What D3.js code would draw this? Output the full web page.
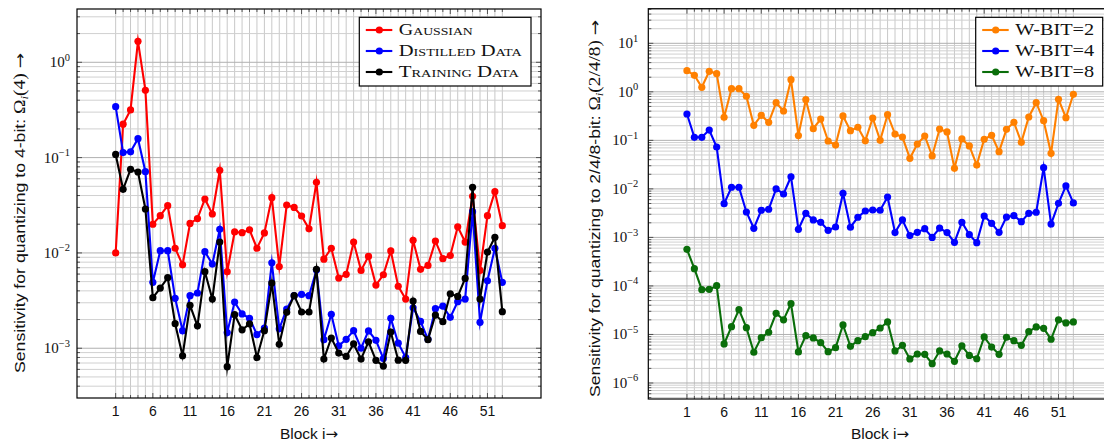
<!DOCTYPE html>
<html>
<head>
<meta charset="utf-8">
<script src="https://cdn.jsdelivr.net/npm/d3@7"></script>
<style>
  body { margin: 0; background: #fff; }
  svg { display: block; }
  .sans { font-family: "Liberation Sans", Arial, sans-serif; }
  .serif { font-family: "Liberation Serif", "Times New Roman", serif; }
  .arrow { font-family: "DejaVu Sans", sans-serif; }
</style>
</head>
<body>
<svg id="chart" width="1104" height="443"></svg>
<script>
// Block indices 1..53
const blocks = d3.range(1, 54);
const xTickValues = [1, 6, 11, 16, 21, 26, 31, 36, 41, 46, 51];

// Left panel: 4-bit sensitivity for three kinds of input data
const gaussian = [
  0.0100, 0.224, 0.316, 1.66, 0.508,
  0.0200, 0.0246, 0.0313, 0.0112, 0.0075,
  0.0204, 0.0229, 0.0368, 0.0256, 0.0736,
  0.00635, 0.0166, 0.0163, 0.0175, 0.0112,
  0.0162, 0.0380, 0.0072, 0.0318, 0.0300,
  0.0244, 0.0179, 0.0550, 0.0086, 0.0112,
  0.00545, 0.00596, 0.0130, 0.00656, 0.0092,
  0.0046, 0.0059, 0.0105, 0.00447, 0.00328,
  0.01355, 0.00673, 0.0074, 0.0133, 0.0087,
  0.0094, 0.0188, 0.0130, 0.0393, 0.00656,
  0.0246, 0.0439, 0.0193
];
const distilled = [
  0.342, 0.113, 0.115, 0.158, 0.0711,
  0.00491, 0.01055, 0.01055, 0.00334, 0.00153,
  0.00356, 0.0038, 0.0103, 0.00764, 0.0177,
  0.00146, 0.00305, 0.00229, 0.00206, 0.00139,
  0.00163, 0.00789, 0.0016, 0.00258, 0.00356,
  0.00367, 0.00356, 0.0066, 0.00123, 0.00227,
  0.00106, 0.00124, 0.00153, 0.001, 0.00152,
  0.00121, 0.00078, 0.00206, 0.00113, 0.0008,
  0.00266, 0.00191, 0.00124, 0.0026, 0.00277,
  0.00211, 0.00308, 0.00328, 0.0271, 0.00187,
  0.0051, 0.0112, 0.00491
];
const training = [
  0.108, 0.0465, 0.0754, 0.0706, 0.0289,
  0.00339, 0.00428, 0.0055, 0.00181, 0.000834,
  0.00282, 0.00172, 0.00635, 0.00328, 0.013,
  0.00064, 0.00225, 0.00156, 0.0018, 0.0008,
  0.00153, 0.00483, 0.0011, 0.00238, 0.00356,
  0.0024, 0.0024, 0.00673, 0.00077, 0.00128,
  0.00089, 0.00082, 0.00111, 0.00077, 0.00117,
  0.000747, 0.00065, 0.00148, 0.00075, 0.000747,
  0.00313, 0.0015, 0.00123, 0.00223, 0.0019,
  0.00373, 0.0035, 0.0054, 0.0488, 0.00328,
  0.0102, 0.0146, 0.00242
];

// Right panel: sensitivity at 2/4/8-bit weights
const wbit2 = [
  2.73, 2.19, 1.24, 2.65, 2.37,
  0.299, 1.16, 1.16, 0.81, 0.204,
  0.328, 0.235, 0.597, 0.403, 1.78,
  0.126, 0.689, 0.174, 0.275, 0.097,
  0.080, 0.318, 0.158, 0.186, 0.098,
  0.289, 0.100, 0.338, 0.135, 0.117,
  0.0427, 0.084, 0.123, 0.0477, 0.171,
  0.149, 0.0265, 0.107, 0.0766, 0.031,
  0.105, 0.127, 0.0585, 0.169, 0.235,
  0.091, 0.303, 0.597, 0.254, 0.054,
  0.70, 0.293, 0.889
];
const wbit4 = [
  0.349, 0.1156, 0.1156, 0.163, 0.073,
  0.00496, 0.0108, 0.0108, 0.00334, 0.00154,
  0.00363, 0.0038, 0.0100, 0.00785, 0.0178,
  0.00147, 0.00314, 0.00229, 0.00205, 0.0014,
  0.00164, 0.00813, 0.00162, 0.0026, 0.0035,
  0.00367, 0.00363, 0.0068, 0.00126, 0.00229,
  0.00109, 0.00127, 0.00151, 0.001, 0.00156,
  0.00126, 0.00079, 0.00205, 0.00114, 0.00078,
  0.00276, 0.00195, 0.00127, 0.00263, 0.0028,
  0.00211, 0.00314, 0.0033, 0.0274, 0.00189,
  0.00505, 0.0115, 0.00513
];
const wbit8 = [
  5.69e-4, 2.27e-4, 8.38e-5, 8.5e-5, 1.01e-4,
  6.37e-6, 1.45e-5, 3.24e-5, 1.38e-5, 4.3e-6,
  8.6e-6, 1.11e-5, 2.73e-5, 2.0e-5, 4.3e-5,
  4.36e-6, 9.45e-6, 8.47e-6, 6.78e-6, 4.42e-6,
  5.34e-6, 1.57e-5, 5.7e-6, 7.45e-6, 9.0e-6,
  1.09e-5, 1.36e-5, 1.81e-5, 4.57e-6, 5.98e-6,
  3.13e-6, 3.96e-6, 3.9e-6, 2.5e-6, 4.57e-6,
  3.96e-6, 2.8e-6, 5.8e-6, 3.7e-6, 3.16e-6,
  8.9e-6, 5.5e-6, 3.9e-6, 8.75e-6, 7.45e-6,
  5.98e-6, 1.14e-5, 1.43e-5, 1.34e-5, 7.96e-6,
  2.0e-5, 1.73e-5, 1.81e-5
];

const leftSeriesNames = ["Gaussian", "Distilled Data", "Training Data"];
const rightSeriesNames = ["W-BIT=2", "W-BIT=4", "W-BIT=8"];
const leftColors = ["#ff0000", "#0000ff", "#000000"];
const rightColors = ["#ff8000", "#0000ff", "#0a6e0a"];

const svg = d3.select("#chart");

function drawPanel(cfg) {
  const g = svg.append("g");
  const x = d3.scaleLinear().domain([-4.2, 58.2]).range([cfg.left, cfg.right]);
  const y = d3.scaleLog().domain([Math.pow(10, cfg.logMin), Math.pow(10, cfg.logMax)])
    .range([cfg.bottom, cfg.top]);

  // log grid values (k * 10^n) inside the domain
  const gridVals = [];
  for (let n = Math.floor(cfg.logMin); n <= Math.ceil(cfg.logMax); n++) {
    for (let k = 1; k <= 9; k++) {
      const v = k * Math.pow(10, n);
      const lv = Math.log10(v);
      if (lv >= cfg.logMin && lv <= cfg.logMax) gridVals.push({ v, major: k === 1, n });
    }
  }

  // vertical grid at every block
  g.append("g").selectAll("line").data(blocks).join("line")
    .attr("x1", d => x(d)).attr("x2", d => x(d))
    .attr("y1", cfg.top).attr("y2", cfg.bottom)
    .attr("stroke", "#c8c8c8").attr("stroke-width", 1);

  // horizontal grid
  g.append("g").selectAll("line").data(gridVals).join("line")
    .attr("x1", cfg.left).attr("x2", cfg.right)
    .attr("y1", d => y(d.v)).attr("y2", d => y(d.v))
    .attr("stroke", d => d.major ? "#b0b0b0" : "#d0d0d0").attr("stroke-width", 1);

  // tick marks on all four sides, pointing inward
  const ticks = g.append("g").attr("stroke", "#333").attr("stroke-width", 0.8);
  blocks.forEach(b => {
    const len = xTickValues.includes(b) ? 5 : 3;
    ticks.append("line").attr("x1", x(b)).attr("x2", x(b)).attr("y1", cfg.bottom).attr("y2", cfg.bottom - len);
    ticks.append("line").attr("x1", x(b)).attr("x2", x(b)).attr("y1", cfg.top).attr("y2", cfg.top + len);
  });
  gridVals.forEach(d => {
    const len = d.major ? 5 : 3;
    ticks.append("line").attr("x1", cfg.left).attr("x2", cfg.left + len).attr("y1", y(d.v)).attr("y2", y(d.v));
    ticks.append("line").attr("x1", cfg.right).attr("x2", cfg.right - len).attr("y1", y(d.v)).attr("y2", y(d.v));
  });

  // frame
  g.append("rect").attr("x", cfg.left).attr("y", cfg.top)
    .attr("width", cfg.right - cfg.left).attr("height", cfg.bottom - cfg.top)
    .attr("fill", "none").attr("stroke", "#000").attr("stroke-width", 1.2);

  // x tick labels
  g.append("g").selectAll("text").data(xTickValues).join("text")
    .attr("class", "sans")
    .attr("x", d => x(d)).attr("y", cfg.bottom + 17.5)
    .attr("text-anchor", "middle").attr("font-size", 14).attr("fill", "#111")
    .text(d => d);

  // y tick labels 10^n
  const majors = gridVals.filter(d => d.major);
  majors.forEach(d => {
    const t = g.append("text").attr("class", "serif")
      .attr("x", cfg.left - cfg.labelGap).attr("y", y(d.v) + 5)
      .attr("text-anchor", "end").attr("fill", "#111").attr("font-size", 15);
    t.append("tspan").text("10");
    t.append("tspan").attr("font-size", 10.5).attr("dy", -6.5)
      .text(d.n < 0 ? "\u2212" + (-d.n) : String(d.n));
  });

  // x axis title
  const xt = g.append("text").attr("class", "sans")
    .attr("x", cfg.titleX).attr("y", 438.5)
    .attr("text-anchor", "middle").attr("font-size", 15.5).attr("fill", "#111");
  xt.append("tspan").text("Block i");
  xt.append("tspan").attr("class", "arrow").attr("font-size", 15).text("\u2192");

  // y axis title
  const yt = g.append("text").attr("class", "sans")
    .attr("transform", `translate(${cfg.yTitleX},${cfg.yTitleY}) rotate(-90)`)
    .attr("text-anchor", "middle").attr("font-size", 14.5).attr("fill", "#111")
    .attr("textLength", cfg.yTitleLen).attr("lengthAdjust", "spacingAndGlyphs");
  yt.append("tspan").text(cfg.yTitlePrefix);
  yt.append("tspan").attr("class", "serif").attr("font-size", 16).text("\u03A9");
  yt.append("tspan").attr("class", "serif").attr("font-style", "italic")
    .attr("font-size", 10.5).attr("dy", 3).text("i");
  yt.append("tspan").attr("class", "serif").attr("font-size", 16).attr("dy", -3)
    .text("(" + cfg.yTitleArg + ") ");
  yt.append("tspan").attr("class", "arrow").attr("font-size", 15).text("\u2192");

  // series lines and markers
  const line = d3.line().x((d, i) => x(blocks[i])).y(d => y(d));
  cfg.series.forEach((vals, si) => {
    g.append("path").datum(vals)
      .attr("d", line).attr("fill", "none")
      .attr("stroke", cfg.colors[si]).attr("stroke-width", 2.1)
      .attr("stroke-linejoin", "miter").attr("stroke-miterlimit", 10);
    g.append("g").selectAll("circle").data(vals).join("circle")
      .attr("cx", (d, i) => x(blocks[i])).attr("cy", d => y(d))
      .attr("r", 3.6).attr("fill", cfg.colors[si]);
  });

  // legend
  const lg = g.append("g");
  lg.append("rect").attr("x", cfg.legX).attr("y", 17.3)
    .attr("width", cfg.legW).attr("height", 68.7)
    .attr("fill", "#fff").attr("stroke", "#000").attr("stroke-width", 1.2);
  cfg.names.forEach((name, i) => {
    const cy = 30 + i * 21;
    lg.append("line").attr("x1", cfg.legX + 6.5).attr("x2", cfg.legX + 33)
      .attr("y1", cy).attr("y2", cy)
      .attr("stroke", cfg.colors[i]).attr("stroke-width", 2.1);
    lg.append("circle").attr("cx", cfg.legX + 20).attr("cy", cy).attr("r", 3.6)
      .attr("fill", cfg.colors[i]);
    const t = lg.append("text").attr("class", "serif")
      .attr("x", cfg.legX + 39.5).attr("y", cy + 5)
      .attr("font-size", 16).attr("fill", "#111")
      .attr("textLength", cfg.legTextLen[i]).attr("lengthAdjust", "spacingAndGlyphs")
      .text(name);
    if (cfg.smallCaps) t.style("font-variant", "small-caps");
  });
}

drawPanel({
  left: 77, right: 541, top: 9, bottom: 398,
  logMin: -3.522, logMax: 0.559,
  labelGap: 7,
  series: [gaussian, distilled, training],
  colors: leftColors, names: leftSeriesNames,
  smallCaps: true, legTextLen: [74, 123, 120],
  legX: 359.3, legW: 171.7,
  titleX: 309,
  yTitleX: 25, yTitleY: 213, yTitleLen: 320,
  yTitlePrefix: "Sensitivity for quantizing to 4-bit: ", yTitleArg: "4"
});

drawPanel({
  left: 648.3, right: 1112, top: 8.7, bottom: 399,
  logMin: -6.33, logMax: 1.713,
  labelGap: 10,
  series: [wbit2, wbit4, wbit8],
  colors: rightColors, names: rightSeriesNames,
  smallCaps: false, legTextLen: [79, 79, 79],
  legX: 975.7, legW: 127,
  titleX: 880,
  yTitleX: 600, yTitleY: 208.5, yTitleLen: 377,
  yTitlePrefix: "Sensitivity for quantizing to 2/4/8-bit: ", yTitleArg: "2/4/8"
});
</script>
</body>
</html>
